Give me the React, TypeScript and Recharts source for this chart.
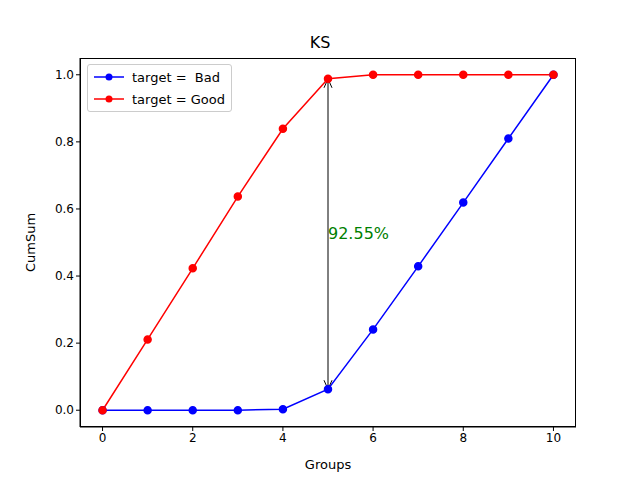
import React from "react";
import {
  LineChart,
  Line,
  XAxis,
  YAxis,
  ReferenceLine,
} from "recharts";

const groups = [0, 1, 2, 3, 4, 5, 6, 7, 8, 9, 10];
const bad = [0, 0, 0, 0, 0.003, 0.0625, 0.241, 0.429, 0.619, 0.81, 1.0];
const good = [0, 0.211, 0.423, 0.637, 0.839, 0.988, 1.0, 1.0, 1.0, 1.0, 1.0];
const xTicks = [0, 2, 4, 6, 8, 10];
const yTicks = [0, 0.2, 0.4, 0.6, 0.8, 1.0];
const ksLabel = "92.55%";

const data = groups.map((g, i) => ({ g, bad: bad[i], good: good[i] }));
const font = "DejaVu Sans, sans-serif";

const ArrowShape = (props: any) => {
  const { x1, y1, x2, y2 } = props;
  const top = Math.min(y1, y2);
  const bot = Math.max(y1, y2);
  const x = x1;
  return (
    <g stroke="#000" fill="none" strokeWidth={1}>
      <line x1={x} y1={top} x2={x} y2={bot} />
      <polyline points={`${x - 4},${top + 9} ${x},${top} ${x + 4},${top + 9}`} />
      <polyline points={`${x - 4},${bot - 9} ${x},${bot} ${x + 4},${bot - 9}`} />
      <text x={x} y={(top + bot) / 2 + 5} fill="green" stroke="none" fontSize={16} fontFamily={font}>
        {ksLabel}
      </text>
    </g>
  );
};

const LegendBox = () => (
  <div style={{ position: "absolute", left: 87, top: 64, border: "1px solid #ccc", borderRadius: 3, background: "#fff", padding: "1px 6px", fontFamily: font, fontSize: 13 }}>
    {[
      { c: "blue", t: "target =  Bad" },
      { c: "red", t: "target = Good" },
    ].map((e) => (
      <div key={e.t} style={{ display: "flex", alignItems: "center", height: 22 }}>
        <svg width={30} height={10} style={{ marginRight: 8 }}>
          <line x1={0} y1={5} x2={30} y2={5} stroke={e.c} strokeWidth={1.5} />
          <circle cx={15} cy={5} r={3.5} fill={e.c} />
        </svg>
        <span style={{ whiteSpace: "pre" }}>{e.t}</span>
      </div>
    ))}
  </div>
);

export default function App() {
  return (
    <div style={{ position: "absolute", left: 0, top: 0, width: 640, height: 480, background: "#fff" }}>
      <div style={{ position: "absolute", top: 33, width: 640, textAlign: "center", fontFamily: font, fontSize: 16 }}>KS</div>
      <LineChart width={640} height={480} data={data} margin={{ top: 58, right: 64, left: 30, bottom: 23 }}>
        <XAxis dataKey="g" type="number" domain={[-0.5, 10.5]} ticks={xTicks} height={30}
          stroke="#000" tick={{ fill: "#000", fontSize: 12, fontFamily: font }} tickSize={4}
          label={{ value: "Groups", position: "insideBottom", offset: -12, fill: "#000", fontSize: 13, fontFamily: font }} />
        <YAxis type="number" domain={[-0.05, 1.05]} ticks={yTicks} width={50} stroke="#000"
          tickFormatter={(v: number) => v.toFixed(1)} tick={{ fill: "#000", fontSize: 12, fontFamily: font }} tickSize={4}
          label={{ value: "CumSum", angle: -90, position: "insideLeft", offset: 0, fill: "#000", fontSize: 13, fontFamily: font, style: { textAnchor: "middle" } }} />
        <Line dataKey="bad" stroke="blue" strokeWidth={1.5} dot={{ r: 3.5, fill: "blue", stroke: "blue" }} isAnimationActive={false} />
        <Line dataKey="good" stroke="red" strokeWidth={1.5} dot={{ r: 3.5, fill: "red", stroke: "red" }} isAnimationActive={false} />
        <ReferenceLine segment={[{ x: 5, y: bad[5] }, { x: 5, y: good[5] }]} shape={ArrowShape} />
      </LineChart>
      <div style={{ position: "absolute", left: 80, top: 58, width: 496, height: 369, boxSizing: "border-box", border: "1px solid #000", pointerEvents: "none" }} />
      <LegendBox />
    </div>
  );
}
